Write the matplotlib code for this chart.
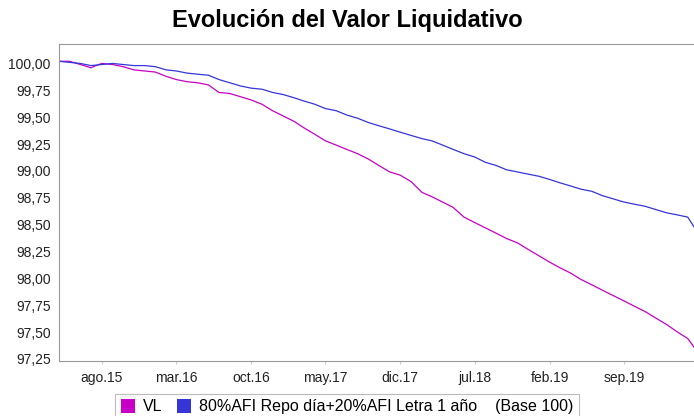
import datetime as dt

import matplotlib
matplotlib.use("Agg")
import matplotlib.pyplot as plt
import matplotlib.dates as mdates
from matplotlib.patches import Patch
from matplotlib.ticker import FuncFormatter

# monthly readings, Apr 2015 .. Mar 2020 (plus last day)
start = dt.date(2015, 4, 1)
dates = []
for i in range(60):
    y, m = divmod(start.month - 1 + i, 12)
    dates.append(dt.date(start.year + y, m + 1, 1))
dates.append(dt.date(2020, 3, 19))

vl = [100.02, 100.02, 99.99, 99.96, 100.00, 99.99, 99.97, 99.94, 99.93, 99.92,
      99.88, 99.85, 99.83, 99.82, 99.80, 99.73, 99.72, 99.69, 99.66, 99.62,
      99.56, 99.51, 99.46, 99.40, 99.34, 99.28, 99.24, 99.20, 99.16, 99.11,
      99.05, 98.99, 98.96, 98.90, 98.80, 98.76, 98.71, 98.66, 98.57, 98.52,
      98.47, 98.42, 98.37, 98.33, 98.27, 98.21, 98.15, 98.10, 98.05, 97.99,
      97.94, 97.89, 97.84, 97.79, 97.74, 97.69, 97.63, 97.57, 97.50, 97.44,
      97.36]
bench = [100.02, 100.01, 100.00, 99.98, 99.99, 100.00, 99.99, 99.98, 99.98, 99.97,
         99.94, 99.93, 99.91, 99.90, 99.89, 99.85, 99.82, 99.79, 99.77, 99.76,
         99.73, 99.71, 99.68, 99.65, 99.62, 99.58, 99.56, 99.52, 99.49, 99.45,
         99.42, 99.39, 99.36, 99.33, 99.30, 99.28, 99.24, 99.20, 99.16, 99.13,
         99.08, 99.05, 99.01, 98.99, 98.97, 98.95, 98.92, 98.89, 98.86, 98.83,
         98.81, 98.77, 98.74, 98.71, 98.69, 98.67, 98.64, 98.61, 98.59, 98.57,
         98.48]

tick_dates = [dt.date(2015, 8, 1), dt.date(2016, 3, 1), dt.date(2016, 10, 1),
              dt.date(2017, 5, 1), dt.date(2017, 12, 1), dt.date(2018, 7, 1),
              dt.date(2019, 2, 1), dt.date(2019, 9, 1)]
tick_labels = ["ago.15", "mar.16", "oct.16", "may.17", "dic.17", "jul.18",
               "feb.19", "sep.19"]
y_ticks = [97.25, 97.5, 97.75, 98.0, 98.25, 98.5, 98.75, 99.0, 99.25, 99.5,
           99.75, 100.0]

VL_COLOR = "#c800c8"
BENCH_COLOR = "#3535d8"

plt.rcParams["font.family"] = ["Liberation Sans", "DejaVu Sans"]

fig = plt.figure(figsize=(6.94, 4.16), dpi=100)
ax = fig.add_axes([0.085, 0.132, 0.915, 0.762])

ax.plot(dates, vl, color=VL_COLOR, linewidth=0.9)
ax.plot(dates, bench, color=BENCH_COLOR, linewidth=0.9)

ax.set_xlim(dates[0], dates[-1])
ax.set_ylim(97.23, 100.18)
ax.set_yticks(y_ticks)
ax.yaxis.set_major_formatter(FuncFormatter(lambda v, p: f"{v:.2f}".replace(".", ",")))
ax.set_xticks([mdates.date2num(d) for d in tick_dates])
ax.set_xticklabels(tick_labels)

for side in ("left", "bottom", "top"):
    ax.spines[side].set_color("#999999")
ax.spines["right"].set_visible(False)
ax.tick_params(axis="y", length=0, labelsize=10, colors="#222222", pad=6)
ax.tick_params(axis="x", length=2, color="#cccccc", labelsize=10,
               labelcolor="#222222", pad=5)

fig.text(0.5, 0.95, "Evolución del Valor Liquidativo", ha="center", va="center",
         fontsize=17, fontweight="bold")

handles = [Patch(facecolor=VL_COLOR, edgecolor="none"),
           Patch(facecolor=BENCH_COLOR, edgecolor="none")]
labels = ["VL", "80%AFI Repo día+20%AFI Letra 1 año    (Base 100)"]
leg = fig.legend(handles, labels, loc="center", bbox_to_anchor=(0.5, 0.022),
                 ncol=2, fontsize=11.5, frameon=True, fancybox=False,
                 handlelength=0.9, handleheight=0.9, handletextpad=0.5,
                 columnspacing=0.9, borderpad=0.35)
leg.get_frame().set_edgecolor("#aaaaaa")
leg.get_frame().set_linewidth(0.8)

fig.savefig("out.png", dpi=100)
